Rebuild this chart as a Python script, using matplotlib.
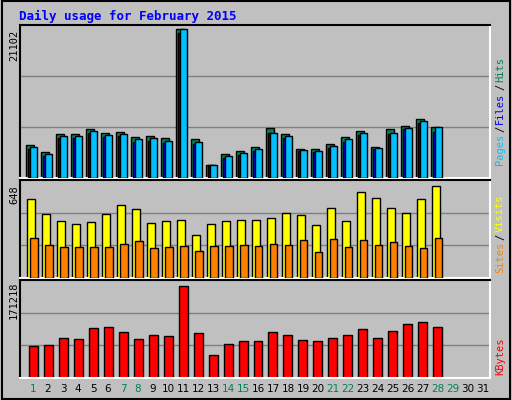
import matplotlib
matplotlib.use("Agg")
import matplotlib.pyplot as plt
import numpy as np

days = list(range(1, 32))
hits = [4737,3732,6173,6173,6890,6316,6460,5742,5886,5598,21102,5455,1866,3445,3876,4450,7034,6173,4163,4163,4881,5742,6603,4450,6890,7321,8326,7178]
files = [4163,3158,5600,5600,6316,5742,5886,5168,5312,5024,20500,4881,1866,2871,3302,3876,6316,5600,3876,3732,4307,5168,6029,4163,6173,6890,7752,6460]
pages = [4450,3445,5886,5886,6603,6029,6173,5455,5598,5311,21102,5168,1866,3158,3589,4163,6316,5886,4020,3876,4594,5455,6316,4307,6316,7034,8039,7178]
visits = [556,451,401,380,394,451,514,486,387,401,408,303,380,401,408,408,423,458,444,373,493,401,606,563,493,458,556,648]
sites = [282,232,218,218,218,218,239,261,211,218,225,190,225,225,232,225,239,232,268,183,275,218,268,232,254,225,211,282]
kbytes = [59552,61413,74440,72579,93050,94911,85606,72579,80023,78162,171218,83745,42803,63274,68857,68857,85606,80023,70718,68857,74440,80023,91189,74440,87467,100494,104216,94911]
weekend = [1,7,8,14,15,21,22,28,29]

W, H = 512, 400
fig = plt.figure(figsize=(W/100, H/100), dpi=100)
fig.patch.set_facecolor("#C0C0C0")
mono = "DejaVu Sans Mono"

def ax_at(x0, y0, x1, y1):
    a = fig.add_axes([x0/W, 1-y1/H, (x1-x0)/W, (y1-y0)/H])
    a.set_facecolor("#C0C0C0")
    a.set_xlim(0.13, 31.47)
    a.set_xticks([]); a.set_yticks([])
    for s in ("left", "top"):
        a.spines[s].set_color("black"); a.spines[s].set_linewidth(1.5)
    for s in ("right", "bottom"):
        a.spines[s].set_color("white"); a.spines[s].set_linewidth(1.5)
    return a

d = np.arange(1, len(hits)+1)
ec = dict(edgecolor="black", linewidth=1)

fig.add_artist(plt.Rectangle((0.003, 0.003), 0.994, 0.994, transform=fig.transFigure,
                             fill=False, edgecolor="black", linewidth=1.5))
fig.text(19/W, 1-16/H, "Daily usage for February 2015", color="#0000FF",
         fontsize=9, fontweight="bold", family=mono, va="center")

a1 = ax_at(20, 25, 490, 178)
top1 = 21102 * 151/147
a1.set_ylim(0, top1)
for g in (top1/3, 2*top1/3):
    a1.axhline(g, color="#808080", lw=1, zorder=0)
a1.bar(d-0.2, hits, width=0.55, color="#00805C", **ec, zorder=2)
a1.bar(d-0.12, files, width=0.45, color="#0000FF", **ec, zorder=3)
a1.bar(d+0.02, pages, width=0.5, color="#00C0FF", **ec, zorder=4)
fig.text(14/W, 1-45/H, "21102", rotation=90, fontsize=7.5, family=mono, ha="center", va="center")

a2 = ax_at(20, 180, 490, 278)
top2 = 648 * 98/92
a2.set_ylim(0, top2)
for g in (top2/3, 2*top2/3):
    a2.axhline(g, color="#808080", lw=1, zorder=0)
a2.bar(d-0.12, visits, width=0.55, color="#FFFF00", **ec, zorder=2)
a2.bar(d+0.05, sites, width=0.5, color="#FF8000", **ec, zorder=3)
fig.text(14/W, 1-195/H, "648", rotation=90, fontsize=7.5, family=mono, ha="center", va="center")

a3 = ax_at(20, 280, 490, 378)
top3 = 171218 * 98/92
a3.set_ylim(0, top3)
for g in (top3/3, 2*top3/3):
    a3.axhline(g, color="#808080", lw=1, zorder=0)
a3.bar(d, kbytes, width=0.6, color="#FF0000", **ec, zorder=2)
fig.text(14/W, 1-300/H, "171218", rotation=90, fontsize=7.5, family=mono, ha="center", va="center")

for dd in days:
    x = (20 + (dd-0.13)/(31.34)*470)/W
    fig.text(x, 1-389/H, str(dd), color="#00805C" if dd in weekend else "black",
             fontsize=7.5, ha="center", va="center")

fig.canvas.draw()
rend = fig.canvas.get_renderer()
def rlabel(parts, ybottom):
    y = ybottom
    for txt, col in parts:
        t = fig.text(500/W, y/H, txt, rotation=90, color=col, fontsize=7.5,
                     family=mono, ha="center", va="bottom")
        bb = t.get_window_extent(rend)
        y += bb.height + 2
rlabel([("Pages", "#00C0FF"), ("/", "black"), ("Files", "#0000FF"), ("/", "black"), ("Hits", "#00805C")], 400-165)
rlabel([("Sites", "#FF8000"), ("/", "black"), ("Visits", "#FFFF00")], 400-273)
rlabel([("KBytes", "#FF0000")], 400-375)

fig.savefig("out.png", dpi=100, facecolor=fig.get_facecolor())
